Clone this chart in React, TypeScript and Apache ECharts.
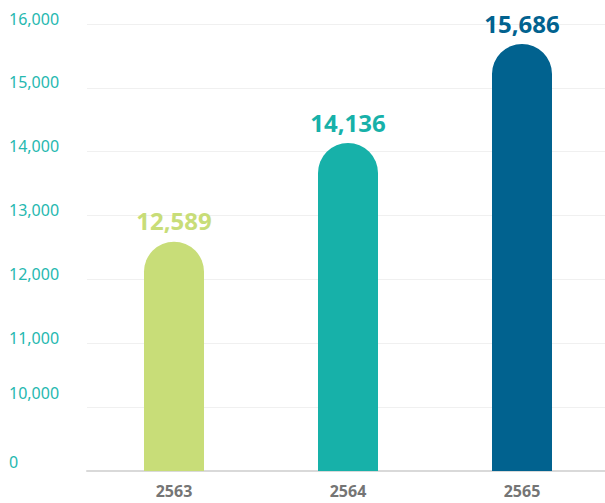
import React, { useEffect, useRef } from "react";
import * as echarts from "echarts";

const categories = ["2563", "2564", "2565"];
const values = [12589, 14136, 15686];
const barColors = ["#c8dd78", "#17b1a9", "#01628f"];
const yMin = 9000;
const yMax = 16000;
const yStep = 1000;

const fmt = (v: number) => v.toLocaleString("en-US");

export default function App() {
  const ref = useRef<HTMLDivElement>(null);
  useEffect(() => {
    if (!ref.current) return;
    const chart = echarts.init(ref.current, null, { renderer: "svg" });
    chart.setOption({
      animation: false,
      textStyle: { fontFamily: "Noto Sans" },
      grid: { left: 87, top: 24, bottom: 32, right: 0 },
      xAxis: {
        type: "category",
        data: categories,
        axisTick: { show: false },
        axisLine: { lineStyle: { color: "#d9d9d9", width: 2 } },
        axisLabel: {
          color: "#757575",
          fontSize: 16,
          fontWeight: "bold",
          margin: 12,
        },
      },
      yAxis: {
        type: "value",
        min: yMin,
        max: yMax,
        interval: yStep,
        axisLine: { show: false },
        axisTick: { show: false },
        splitLine: { lineStyle: { color: "#f0f0f0", width: 1 } },
        axisLabel: {
          color: "#26b8b0",
          fontSize: 16,
          align: "left",
          margin: 78,
          verticalAlign: "middle",
          formatter: (v: number) => {
            if (v === yMin) return "{z|0}";
            if (v === 10000) return "{t|" + fmt(v) + "}";
            return "{n|" + fmt(v) + "}";
          },
          rich: {
            n: { color: "#26b8b0", fontSize: 16, padding: [0, 0, 11, 0] },
            t: { color: "#26b8b0", fontSize: 16, padding: [0, 0, 29, 0] },
            z: { color: "#26b8b0", fontSize: 16, padding: [0, 0, 18, 0] },
          },
        },
      },
      series: [
        {
          type: "bar",
          barWidth: 60,
          data: values.map((v, i) => ({
            value: v,
            itemStyle: { color: barColors[i], borderRadius: [30, 30, 0, 0] },
            label: { color: barColors[i] },
          })),
          label: {
            show: true,
            position: "top",
            distance: 9,
            fontSize: 24,
            fontWeight: "bold",
            formatter: (p: any) => fmt(p.value),
          },
        },
      ],
    });
    return () => chart.dispose();
  }, []);
  return (
    <div
      style={{
        position: "absolute",
        left: 0,
        top: 0,
        width: 605,
        height: 503,
        overflow: "hidden",
      }}
    >
      <div ref={ref} style={{ width: 609, height: 503 }} />
    </div>
  );
}
